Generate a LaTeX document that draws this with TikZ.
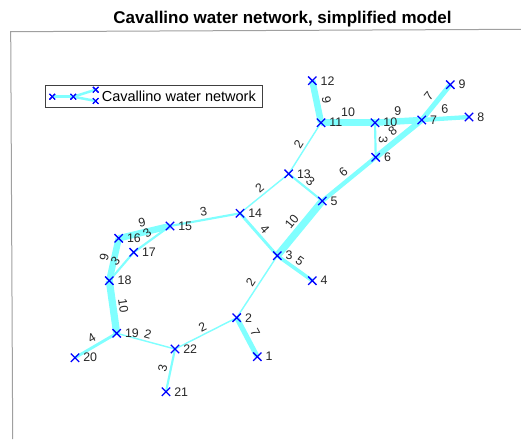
\documentclass[tikz,border=0pt]{standalone}
\usepackage{fontspec}
\setmainfont{Liberation Sans}
\usetikzlibrary{shapes.misc,backgrounds}
\definecolor{pipec}{RGB}{128,255,255}
\definecolor{markc}{RGB}{0,0,255}
\definecolor{axc}{RGB}{160,160,160}
\definecolor{txtc}{RGB}{38,38,38}
\begin{document}
\begin{tikzpicture}[x=1pt,y=-1pt,
  vert/.style={cross out, draw=markc, line width=1.3pt, minimum size=7pt, inner sep=0pt,
    label={[nl]right:#1}},
  nl/.style={font=\fontsize{12.4}{14}\selectfont, text=txtc, inner sep=1pt, label distance=3pt},
  pipe/.style={draw=pipec, line width=#1*0.72pt},
  el/.style={sloped, above, font=\fontsize{12.4}{14}\selectfont, text=txtc, inner sep=2.5pt},
  lmark/.style={cross out, draw=markc, line width=1.1pt, minimum size=4.5pt, inner sep=0pt}]
\useasboundingbox (0,0) rectangle (521,439);
% axes frame
\draw[axc, line width=1pt] (12.7,439) -- (10.7,31.7) -- (521,29.3);
% title
\node[font=\bfseries\fontsize{17}{20}\selectfont, text=black, anchor=base] (title) at (282.5,23.3) {Cavallino water network, simplified model};
% vertices
\node[vert=1]  (n1)  at (257.3,356.7) {};
\node[vert=2]  (n2)  at (236.7,317.7) {};
\node[vert=3]  (n3)  at (277.3,255.7) {};
\node[vert=4]  (n4)  at (312.3,280.7) {};
\node[vert=5]  (n5)  at (322.3,201.0) {};
\node[vert=6]  (n6)  at (375.7,157.3) {};
\node[vert=7]  (n7)  at (421.7,120.0) {};
\node[vert=8]  (n8)  at (469.0,117.0) {};
\node[vert=9]  (n9)  at (450.3,84.7) {};
\node[vert=10] (n10) at (375.0,122.7) {};
\node[vert=11] (n11) at (321.0,122.7) {};
\node[vert=12] (n12) at (312.3,80.7) {};
\node[vert=13] (n13) at (288.7,173.8) {};
\node[vert=14] (n14) at (240.0,213.3) {};
\node[vert=15] (n15) at (170.0,226.0) {};
\node[vert=16] (n16) at (118.7,238.3) {};
\node[vert=17] (n17) at (133.7,252.3) {};
\node[vert=18] (n18) at (109.3,280.7) {};
\node[vert=19] (n19) at (116.7,333.3) {};
\node[vert=20] (n20) at (75.0,357.7) {};
\node[vert=21] (n21) at (166.0,391.7) {};
\node[vert=22] (n22) at (175.0,349.0) {};
% edges
\begin{pgfonlayer}{background}
\draw[pipe=9]  (n12.center) -- node[el]{9}  (n11.center);
\draw[pipe=10] (n11.center) -- node[el]{10} (n10.center);
\draw[pipe=9]  (n10.center) -- node[el]{9}  (n7.center);
\draw[pipe=6]  (n7.center)  -- node[el]{6}  (n8.center);
\draw[pipe=7]  (n7.center)  -- node[el]{7}  (n9.center);
\draw[pipe=3]  (n10.center) -- node[el]{3}  (n6.center);
\draw[pipe=8]  (n6.center)  -- node[el]{8}  (n7.center);
\draw[pipe=2]  (n11.center) -- node[el]{2}  (n13.center);
\draw[pipe=3]  (n13.center) -- node[el]{3}  (n5.center);
\draw[pipe=6]  (n5.center)  -- node[el]{6}  (n6.center);
\draw[pipe=2]  (n14.center) -- node[el]{2}  (n13.center);
\draw[pipe=10] (n3.center)  -- node[el]{10} (n5.center);
\draw[pipe=4]  (n14.center) -- node[el]{4}  (n3.center);
\draw[pipe=5]  (n3.center)  -- node[el]{5}  (n4.center);
\draw[pipe=2]  (n2.center)  -- node[el]{2}  (n3.center);
\draw[pipe=3]  (n15.center) -- node[el]{3}  (n14.center);
\draw[pipe=9]  (n16.center) -- node[el]{9}  (n15.center);
\draw[pipe=3]  (n17.center) -- node[el]{3}  (n15.center);
\draw[pipe=9]  (n18.center) -- node[el]{9}  (n16.center);
\draw[pipe=3]  (n18.center) -- node[el]{3}  (n17.center);
\draw[pipe=10] (n19.center) -- node[el]{10} (n18.center);
\draw[pipe=4]  (n20.center) -- node[el]{4}  (n19.center);
\draw[pipe=2]  (n19.center) -- node[el]{2}  (n22.center);
\draw[pipe=2]  (n22.center) -- node[el]{2}  (n2.center);
\draw[pipe=3]  (n21.center) -- node[el]{3}  (n22.center);
\draw[pipe=7]  (n2.center)  -- node[el]{7}  (n1.center);
\end{pgfonlayer}
% legend
\draw[black!75, line width=0.8pt, fill=white] (45,85) rectangle (262,107.3);
\node[lmark] (la) at (52.3,96.7) {};
\node[lmark] (lb) at (73.3,96.7) {};
\node[lmark] (lc) at (95.7,89.7) {};
\node[lmark] (ld) at (95.7,101.0) {};
\begin{pgfonlayer}{background}
\end{pgfonlayer}
\draw[pipec, line width=2.5pt] (la.center) -- (lb.center);
\draw[pipec, line width=2.5pt] (lb.center) -- (lc.center);
\draw[pipec, line width=2.5pt] (lb.center) -- (ld.center);
\node[lmark] at (la.center) {};
\node[lmark] at (lb.center) {};
\node[lmark] at (lc.center) {};
\node[lmark] at (ld.center) {};
\node[font=\fontsize{14.5}{16}\selectfont, text=black, anchor=west, inner sep=0pt] (ltext) at (101.7,96.5) {Cavallino water network};
\end{tikzpicture}
\end{document}
